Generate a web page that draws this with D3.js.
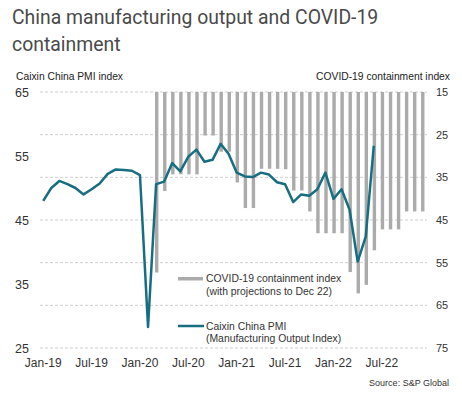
<!DOCTYPE html>
<html><head><meta charset="utf-8">
<script src="https://cdn.jsdelivr.net/npm/d3@7"></script>
<style>
html,body{margin:0;padding:0;background:#fff;}
svg{display:block;}
</style></head>
<body>
<svg id="c" width="462" height="398"></svg>
<script>
const xTickLabels = ["Jan-19","Jul-19","Jan-20","Jul-20","Jan-21","Jul-21","Jan-22","Jul-22"];
const xTickIndex = [0,6,12,18,24,30,36,42];
// Caixin China PMI (Manufacturing Output Index), Jan-19 .. Jun-22
const pmiValues = [
  48.0,50.0,51.1,50.6,50.0,49.0,49.8,50.7,52.2,52.9,52.8,52.7,
  52.0,28.3,50.6,51.0,53.9,52.6,54.9,56.0,54.1,54.4,56.9,55.3,
  52.4,51.8,51.7,52.4,52.1,50.9,50.6,47.8,49.0,48.8,49.8,52.4,
  48.3,49.8,46.6,38.5,42.4,56.6
];
// COVID-19 containment index, Mar-20 .. Dec-22 (start index 14)
const containStart = 14;
const containValues = [
  57.3,38.2,34.3,34.3,34.3,34.3,25.2,25.2,29.0,29.0,
  36.2,42.2,42.2,33.0,33.0,33.0,33.1,38.1,38.1,43.0,48.1,48.1,
  48.1,48.1,57.2,62.2,60.2,52.1,47.2,47.2,47.2,43.0,43.0,43.0
];
const leftTicks = [65,55,45,35,25];
const rightTicks = [15,25,35,45,55,65,75];

const svg = d3.select("#c");
const x = d3.scaleLinear().domain([-0.4, 47.6]).range([40, 427]);
const yL = d3.scaleLinear().domain([25, 65]).range([348, 92]);
const yR = d3.scaleLinear().domain([15, 75]).range([92, 348]);
const font = "'Liberation Sans', Arial, sans-serif";

// Title
svg.append("text").attr("x",12).attr("y",24).attr("font-family","Roboto, sans-serif")
  .attr("font-size",19.4).attr("fill","#4a4a4a").text("China manufacturing output and COVID-19");
svg.append("text").attr("x",12).attr("y",51).attr("font-family","Roboto, sans-serif")
  .attr("font-size",19.4).attr("fill","#4a4a4a").text("containment");

// axis titles
svg.append("text").attr("x",16).attr("y",80).attr("font-family",font).attr("font-size",10.3)
  .attr("fill","#222").text("Caixin China PMI index");
svg.append("text").attr("x",450).attr("y",80).attr("text-anchor","end").attr("font-family",font).attr("font-size",10.3)
  .attr("fill","#222").text("COVID-19 containment index");

// gridlines
svg.append("g").selectAll("line").data(rightTicks).join("line")
  .attr("x1",40).attr("x2",427).attr("y1",d=>yR(d)).attr("y2",d=>yR(d))
  .attr("stroke","#cfcfcf").attr("stroke-width",1).attr("stroke-dasharray","3,2");

// left ticks
svg.append("g").selectAll("text").data(leftTicks).join("text")
  .attr("x",15).attr("y",d=>yL(d)+4.5).attr("font-family",font).attr("font-size",12.5)
  .attr("fill","#333").text(d=>d);
// right ticks
svg.append("g").selectAll("text").data(rightTicks).join("text")
  .attr("x",436).attr("y",d=>yR(d)+4).attr("font-family",font).attr("font-size",11)
  .attr("fill","#333").text(d=>d);
// x ticks
svg.append("g").selectAll("text").data(xTickIndex).join("text")
  .attr("x",d=>x(d)).attr("y",367).attr("text-anchor","middle").attr("font-family",font).attr("font-size",12)
  .attr("fill","#333").text((d,i)=>xTickLabels[i]);

// bars
const bw = 3.4;
svg.append("g").selectAll("rect").data(containValues).join("rect")
  .attr("x",(d,i)=>x(containStart+i)+0.6-bw/2).attr("width",bw)
  .attr("y",yR(15)).attr("height",d=>yR(d)-yR(15))
  .attr("fill","#ababab");

// line
const line = d3.line().x((d,i)=>x(i)).y(d=>yL(d));
svg.append("path").datum(pmiValues).attr("d",line).attr("fill","none")
  .attr("stroke","#176e80").attr("stroke-width",2.5).attr("stroke-linejoin","round");

// legend
svg.append("rect").attr("x",178).attr("y",277).attr("width",25).attr("height",3.5).attr("fill","#ababab");
svg.append("text").attr("x",206).attr("y",282).attr("font-family",font).attr("font-size",10.4)
  .attr("fill","#333").text("COVID-19 containment index");
svg.append("text").attr("x",206).attr("y",295).attr("font-family",font).attr("font-size",10.4)
  .attr("fill","#333").text("(with projections to Dec 22)");
svg.append("line").attr("x1",178).attr("x2",204).attr("y1",326).attr("y2",326)
  .attr("stroke","#176e80").attr("stroke-width",2.5);
svg.append("text").attr("x",206).attr("y",330).attr("font-family",font).attr("font-size",10.4)
  .attr("fill","#333").text("Caixin China PMI");
svg.append("text").attr("x",206).attr("y",342).attr("font-family",font).attr("font-size",10.4)
  .attr("fill","#333").text("(Manufacturing Output Index)");

// source
svg.append("text").attr("x",449).attr("y",386).attr("text-anchor","end").attr("font-family",font).attr("font-size",9)
  .attr("fill","#333").text("Source: S&P Global");
</script>
</body></html>
